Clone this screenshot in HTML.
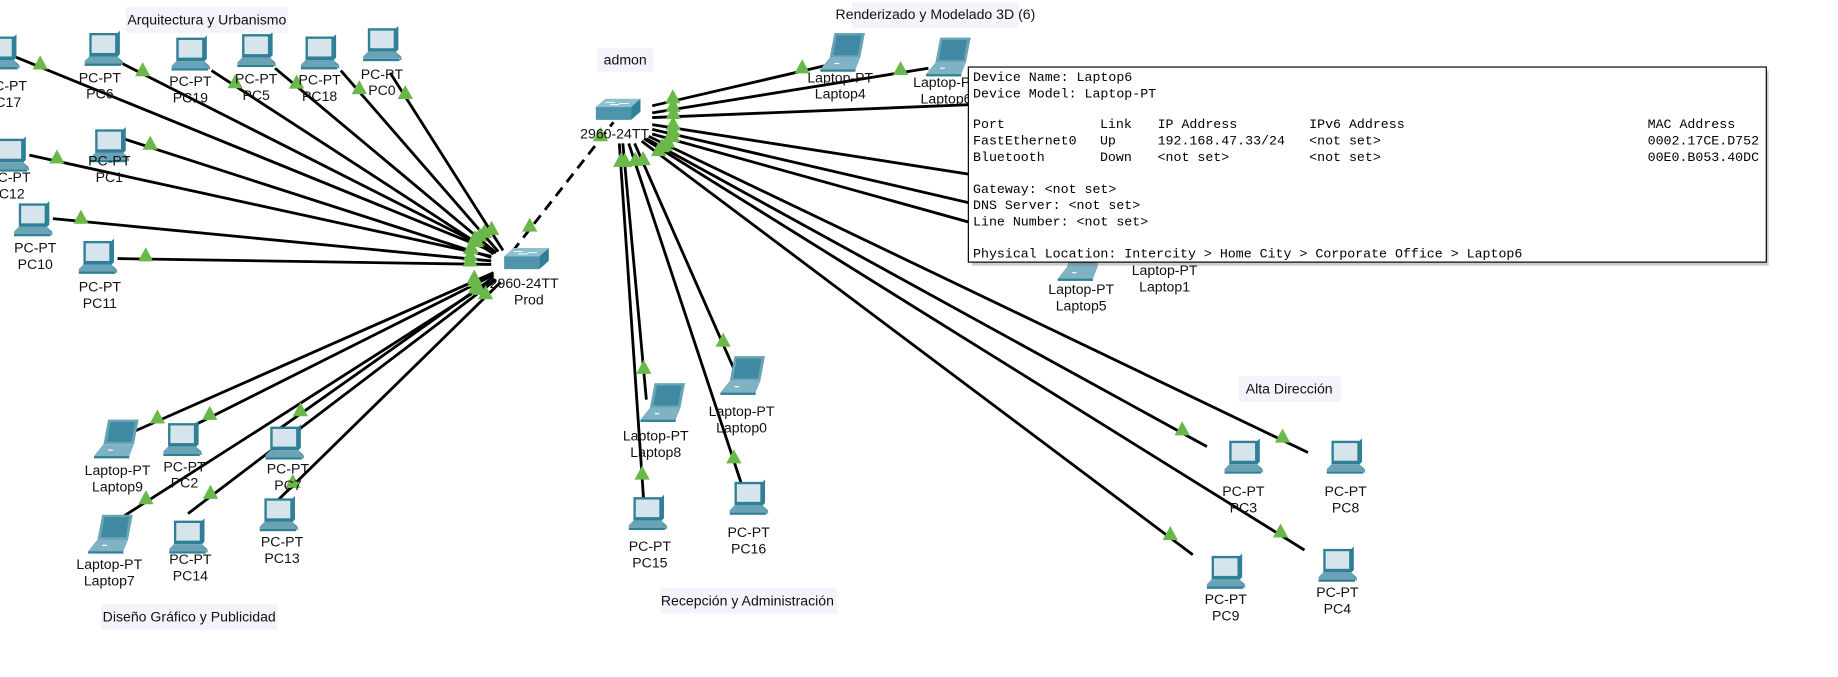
<!DOCTYPE html>
<html><head><meta charset="utf-8"><style>
html,body{margin:0;padding:0;background:#fff;width:1838px;height:677px;overflow:hidden}
svg text{font-family:"Liberation Sans",sans-serif;font-size:12px;fill:#111}
.mono text{font-family:"Liberation Mono",monospace;font-size:11.3px;fill:#000}
</style></head><body>
<svg width="1838" height="677" viewBox="0 0 1564 576" xmlns="http://www.w3.org/2000/svg">
<defs>
<g id="pc">
<polygon points="-12,-17 12,-17 14,-19 14,1 12,3 -12,3" fill="#2f7f97"/>
<rect x="-10" y="-15" width="20" height="15" fill="#d6e4ec"/>
<polygon points="-12,3 12,3 15,6 15,9 -16,9 -16,7" fill="#6aa3b6"/>
<rect x="-16" y="9" width="31" height="2" fill="#2f7f97"/>
<path d="M13,6 q3,0 3,4" stroke="#5a95a8" fill="none" stroke-width="1.5"/>
</g>
<g id="lap">
<polygon points="-8,-20 18,-20 14,1 -12,1" fill="#6aa3b6"/>
<polygon points="-6,-18 15,-18 12,-1 -9,-1" fill="#3f8aa2"/>
<polygon points="-12,1 14,1 10,11 -20,11" fill="#7fb2c3"/>
<rect x="-20" y="11" width="30" height="2" fill="#2f7f97"/>
<path d="M-8,6 l4,0" stroke="#fff" stroke-width="1"/>
</g>
<g id="sw">
<polygon points="-18,-4 -10,-11 20,-11 12,-4" fill="#8fc0d0"/>
<polygon points="-18,-4 12,-4 12,7 -18,7" fill="#4e95ab"/>
<polygon points="12,-4 20,-11 20,0 12,7" fill="#2f7f97"/>
<path d="M-10,-8 l8,0 M2,-7 l8,0 M-6,-6 l8,0" stroke="#fff" stroke-width="0.8"/>
</g>
</defs>
<g stroke="#000" stroke-width="2.4" fill="none" id="lines">
<line x1="12" y1="48" x2="422" y2="215"/>
<line x1="100" y1="52" x2="420" y2="214"/>
<line x1="180" y1="60" x2="420" y2="216"/>
<line x1="234" y1="58" x2="422" y2="215"/>
<line x1="290" y1="60" x2="424" y2="214"/>
<line x1="332" y1="62" x2="428" y2="213"/>
<line x1="25" y1="132" x2="418" y2="218"/>
<line x1="105" y1="118" x2="418" y2="219"/>
<line x1="45" y1="186" x2="418" y2="222"/>
<line x1="100" y1="220" x2="418" y2="225"/>
<line x1="112" y1="368" x2="420" y2="232"/>
<line x1="157" y1="366" x2="420" y2="234"/>
<line x1="236" y1="366" x2="420" y2="236"/>
<line x1="104" y1="440" x2="420" y2="238"/>
<line x1="160" y1="437" x2="422" y2="238"/>
<line x1="232" y1="430" x2="426" y2="240"/>
<line x1="706" y1="55" x2="555" y2="90"/>
<line x1="790" y1="58" x2="555" y2="96"/>
<line x1="900" y1="86" x2="555" y2="100"/>
<line x1="900" y1="160" x2="555" y2="106"/>
<line x1="900" y1="190" x2="555" y2="110"/>
<line x1="900" y1="210" x2="555" y2="114"/>
<line x1="1113" y1="385" x2="552" y2="116"/>
<line x1="1027" y1="380" x2="550" y2="118"/>
<line x1="1110" y1="468" x2="548" y2="118"/>
<line x1="1015" y1="472" x2="546" y2="120"/>
<line x1="550" y1="340" x2="530" y2="122"/>
<line x1="548" y1="430" x2="527" y2="122"/>
<line x1="625" y1="315" x2="540" y2="122"/>
<line x1="632" y1="415" x2="535" y2="122"/>
<line x1="436" y1="214" x2="522" y2="104" stroke-dasharray="9,6"/>
</g>
<g id="tris" fill="#6ab84a"></g>
<use href="#pc" x="0" y="48"/><text x="5" y="77" text-anchor="middle">PC-PT</text><text x="3" y="91" text-anchor="middle">PC17</text>
<use href="#pc" x="88" y="45"/><text x="85" y="70" text-anchor="middle">PC-PT</text><text x="85" y="84" text-anchor="middle">PC6</text>
<use href="#pc" x="162" y="49"/><text x="162" y="73" text-anchor="middle">PC-PT</text><text x="162" y="87" text-anchor="middle">PC19</text>
<use href="#pc" x="218" y="46"/><text x="218" y="71" text-anchor="middle">PC-PT</text><text x="218" y="85" text-anchor="middle">PC5</text>
<use href="#pc" x="272" y="48"/><text x="272" y="72" text-anchor="middle">PC-PT</text><text x="272" y="86" text-anchor="middle">PC18</text>
<use href="#pc" x="325" y="41"/><text x="325" y="67" text-anchor="middle">PC-PT</text><text x="325" y="81" text-anchor="middle">PC0</text>
<use href="#pc" x="8" y="135"/><text x="8" y="155" text-anchor="middle">PC-PT</text><text x="6" y="169" text-anchor="middle">PC12</text>
<use href="#pc" x="93" y="127"/><text x="93" y="141" text-anchor="middle">PC-PT</text><text x="93" y="155" text-anchor="middle">PC1</text>
<use href="#pc" x="28" y="190"/><text x="30" y="215" text-anchor="middle">PC-PT</text><text x="30" y="229" text-anchor="middle">PC10</text>
<use href="#pc" x="83" y="222"/><text x="85" y="248" text-anchor="middle">PC-PT</text><text x="85" y="262" text-anchor="middle">PC11</text>
<use href="#sw" x="447" y="222"/><text x="446" y="245" text-anchor="middle">2960-24TT</text><text x="450" y="259" text-anchor="middle">Prod</text>
<use href="#sw" x="525" y="95"/><text x="523" y="118" text-anchor="middle">2960-24TT</text>
<rect x="508" y="41" width="48" height="20" fill="#f3f4fb"/><text x="532" y="55" text-anchor="middle">admon</text>
<rect x="107" y="6" width="138" height="22" fill="#f3f4fb"/><text x="176" y="21" text-anchor="middle">Arquitectura y Urbanismo</text>
<rect x="725" y="2" width="142" height="22" fill="#f3f4fb"/><text x="796" y="16" text-anchor="middle">Renderizado y Modelado 3D (6)</text>
<rect x="86" y="514" width="150" height="22" fill="#f3f4fb"/><text x="161" y="529" text-anchor="middle">Diseño Gráfico y Publicidad</text>
<rect x="562" y="500" width="150" height="22" fill="#f3f4fb"/><text x="636" y="515" text-anchor="middle">Recepción y Administración</text>
<rect x="1054" y="320" width="87" height="22" fill="#f3f4fb"/><text x="1097" y="335" text-anchor="middle">Alta Dirección</text>
<use href="#lap" x="100" y="377"/><text x="100" y="404" text-anchor="middle">Laptop-PT</text><text x="100" y="418" text-anchor="middle">Laptop9</text>
<use href="#pc" x="155" y="377"/><text x="157" y="401" text-anchor="middle">PC-PT</text><text x="157" y="415" text-anchor="middle">PC2</text>
<use href="#pc" x="242" y="380"/><text x="245" y="403" text-anchor="middle">PC-PT</text><text x="245" y="417" text-anchor="middle">PC7</text>
<use href="#lap" x="95" y="458"/><text x="93" y="484" text-anchor="middle">Laptop-PT</text><text x="93" y="498" text-anchor="middle">Laptop7</text>
<use href="#pc" x="160" y="460"/><text x="162" y="480" text-anchor="middle">PC-PT</text><text x="162" y="494" text-anchor="middle">PC14</text>
<use href="#pc" x="237" y="441"/><text x="240" y="465" text-anchor="middle">PC-PT</text><text x="240" y="479" text-anchor="middle">PC13</text>
<use href="#lap" x="718" y="48"/><text x="715" y="70" text-anchor="middle">Laptop-PT</text><text x="715" y="84" text-anchor="middle">Laptop4</text>
<use href="#lap" x="808" y="52"/><text x="805" y="74" text-anchor="middle">Laptop-PT</text><text x="805" y="88" text-anchor="middle">Laptop6</text>
<use href="#lap" x="565" y="346"/><text x="558" y="375" text-anchor="middle">Laptop-PT</text><text x="558" y="389" text-anchor="middle">Laptop8</text>
<use href="#lap" x="633" y="323"/><text x="631" y="354" text-anchor="middle">Laptop-PT</text><text x="631" y="368" text-anchor="middle">Laptop0</text>
<use href="#pc" x="551" y="440"/><text x="553" y="469" text-anchor="middle">PC-PT</text><text x="553" y="483" text-anchor="middle">PC15</text>
<use href="#pc" x="637" y="427"/><text x="637" y="457" text-anchor="middle">PC-PT</text><text x="637" y="471" text-anchor="middle">PC16</text>
<use href="#pc" x="1058" y="392"/><text x="1058" y="422" text-anchor="middle">PC-PT</text><text x="1058" y="436" text-anchor="middle">PC3</text>
<use href="#pc" x="1145" y="392"/><text x="1145" y="422" text-anchor="middle">PC-PT</text><text x="1145" y="436" text-anchor="middle">PC8</text>
<use href="#pc" x="1043" y="490"/><text x="1043" y="514" text-anchor="middle">PC-PT</text><text x="1043" y="528" text-anchor="middle">PC9</text>
<use href="#pc" x="1138" y="484"/><text x="1138" y="508" text-anchor="middle">PC-PT</text><text x="1138" y="522" text-anchor="middle">PC4</text>
<use href="#lap" x="920" y="226"/><text x="920" y="250" text-anchor="middle">Laptop-PT</text><text x="920" y="264" text-anchor="middle">Laptop5</text>
<text x="991" y="234" text-anchor="middle">Laptop-PT</text><text x="991" y="248" text-anchor="middle">Laptop1</text>
<rect x="827" y="60" width="678" height="166" fill="#999" opacity="0.5"/>
<rect x="824" y="57" width="679" height="166" fill="#fff" stroke="#000" stroke-width="1"/>
<g class="mono">
<text x="828" y="69">Device Name: Laptop6</text>
<text x="828" y="83">Device Model: Laptop-PT</text>
<text x="828" y="109">Port</text><text x="936" y="109">Link</text><text x="985" y="109">IP Address</text><text x="1114" y="109">IPv6 Address</text><text x="1402" y="109">MAC Address</text>
<text x="828" y="123">FastEthernet0</text><text x="936" y="123">Up</text><text x="985" y="123">192.168.47.33/24</text><text x="1114" y="123">&lt;not set&gt;</text><text x="1402" y="123">0002.17CE.D752</text>
<text x="828" y="137">Bluetooth</text><text x="936" y="137">Down</text><text x="985" y="137">&lt;not set&gt;</text><text x="1114" y="137">&lt;not set&gt;</text><text x="1402" y="137">00E0.B053.40DC</text>
<text x="828" y="164">Gateway: &lt;not set&gt;</text>
<text x="828" y="178">DNS Server: &lt;not set&gt;</text>
<text x="828" y="192">Line Number:  &lt;not set&gt;</text>
<text x="828" y="219">Physical Location: Intercity &gt; Home City &gt; Corporate Office &gt; Laptop6</text>
</g>
</svg>
<script>
(function(){
var ls=document.querySelectorAll('#lines line'),g=document.getElementById('tris'),s='';
ls.forEach(function(l){
var x1=+l.getAttribute('x1'),y1=+l.getAttribute('y1'),x2=+l.getAttribute('x2'),y2=+l.getAttribute('y2');
var dx=x2-x1,dy=y2-y1,L=Math.sqrt(dx*dx+dy*dy);
[24,L-18].forEach(function(d){
if(x1>=820&&x1<=1510&&y1<230&&d==24)return;
var t=d/L,x=x1+dx*t,y=y1+dy*t-3;
s+='<polygon points="'+(x-6.5)+','+(y+5)+' '+(x+6.5)+','+(y+5)+' '+x+','+(y-7)+'"/>';
});
});
g.innerHTML=s;
})();
</script>
</body></html>
